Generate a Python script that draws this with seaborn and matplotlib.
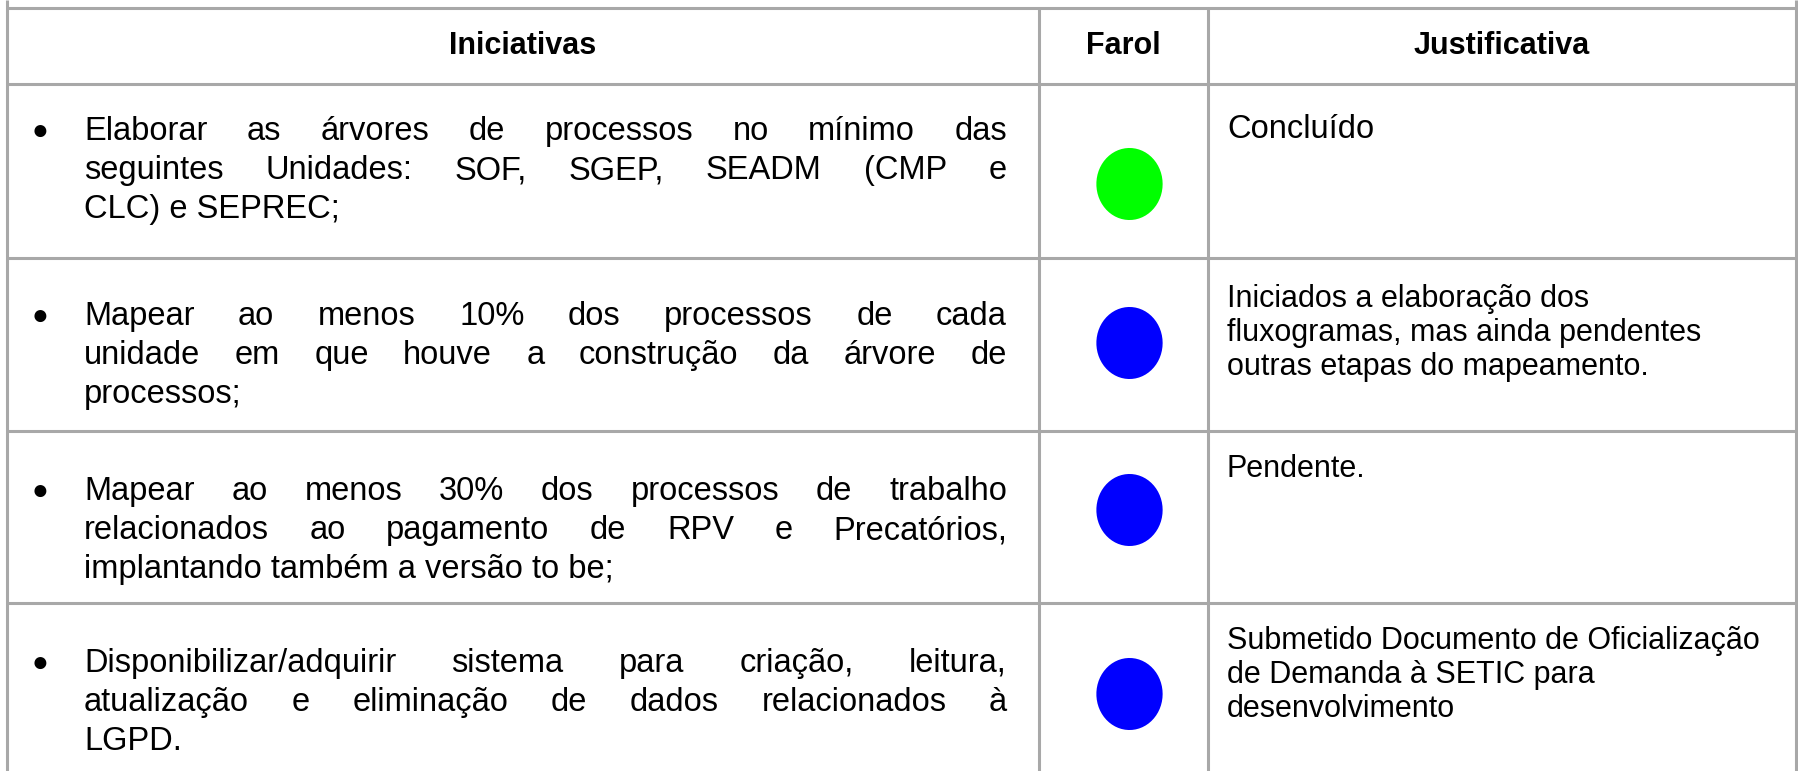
import matplotlib
matplotlib.use("Agg")
import matplotlib.pyplot as plt
import seaborn as sns
import pandas as pd
import numpy as np
from matplotlib.path import Path

# dados da tabela
cabecalho = ["Iniciativas", "Farol", "Justificativa"]
iniciativas = [
    ["Elaborar as árvores de processos no mínimo das",
     "seguintes Unidades: SOF, SGEP, SEADM (CMP e",
     "CLC) e SEPREC;"],
    ["Mapear ao menos 10% dos processos de cada",
     "unidade em que houve a construção da árvore de",
     "processos;"],
    ["Mapear ao menos 30% dos processos de trabalho",
     "relacionados ao pagamento de RPV e Precatórios,",
     "implantando também a versão to be;"],
    ["Disponibilizar/adquirir sistema para criação, leitura,",
     "atualização e eliminação de dados relacionados à",
     "LGPD."],
]
farol = ["verde", "azul", "azul", "azul"]
justificativas = [
    ["Concluído"],
    ["Iniciados a elaboração dos", "fluxogramas, mas ainda pendentes",
     "outras etapas do mapeamento."],
    ["Pendente."],
    ["Submetido Documento de Oficialização", "de Demanda à SETIC para",
     "desenvolvimento"],
]
cores_farol = {"verde": "#00ff00", "azul": "#0000ff"}

# layout (pixels)
W, H = 1799, 771
col_x = [7, 1039, 1208, 1796]
row_y = [8, 84, 258, 431, 603]
base_ini = [140, 325, 500, 672]
passo_ini = 39
base_just = [[138], [307, 341, 375], [477], [649, 683, 717]]
farol_y = [184, 343, 510, 694]
grid_color = "#a8a8a8"
fs_main, fs_small, fs_head = 23.5, 22, 22

sns.set_theme(style="white")
plt.rcParams["font.family"] = ["Liberation Sans", "DejaVu Sans"]

fig = plt.figure(figsize=(W / 100, H / 100), dpi=100)
ax = fig.add_axes([0, 0, 1, 1])
ax.set_xlim(0, W)
ax.set_ylim(H, 0)
ax.axis("off")

# grade
ax.hlines(row_y, col_x[0], col_x[-1], color=grid_color, lw=2.2)
ax.vlines([col_x[0], col_x[-1]], 0, H, color=grid_color, lw=2.2)
ax.vlines(col_x[1:-1], row_y[0], H, color=grid_color, lw=2.2)

# cabecalho
hy = (row_y[0] + row_y[1]) / 2
for i, t in enumerate(cabecalho):
    ax.text((col_x[i] + col_x[i + 1]) / 2, hy, t, ha="center", va="center",
            fontsize=fs_head, fontweight="bold", color="black")

renderer = fig.canvas.get_renderer()


def linha_justificada(palavras, x0, x1, y, **kw):
    objs = [ax.text(0, y, p, va="baseline", **kw) for p in palavras]
    larg = [o.get_window_extent(renderer).width for o in objs]
    gap = (x1 - x0 - sum(larg)) / max(len(objs) - 1, 1)
    x = x0
    for o, w in zip(objs, larg):
        o.set_x(x)
        x += w + gap


txt_x0, txt_x1 = 84, 1007
for r, linhas in enumerate(iniciativas):
    ax.text(40, base_ini[r] - 1, "●", ha="center", va="baseline",
            fontsize=20, color="black")
    for k, ln in enumerate(linhas):
        y = base_ini[r] + k * passo_ini
        if k < len(linhas) - 1:
            linha_justificada(ln.split(" "), txt_x0, txt_x1, y, fontsize=fs_main, color="black")
        else:
            ax.text(txt_x0, y, ln, va="baseline", fontsize=fs_main, color="black")

for r, linhas in enumerate(justificativas):
    fs = fs_main if r == 0 else fs_small
    for k, ln in enumerate(linhas):
        ax.text(col_x[2] + 19, base_just[r][k], ln, va="baseline", fontsize=fs, color="black")

# farol
df = pd.DataFrame({
    "x": [(col_x[1] + col_x[2]) / 2 + 6] * len(farol),
    "y": farol_y,
    "farol": farol,
})
t = np.linspace(0, 2 * np.pi, 60)
elipse = Path(np.column_stack([0.92 * np.cos(t), np.sin(t)]))
sns.scatterplot(data=df, x="x", y="y", hue="farol", palette=cores_farol,
                marker=elipse, s=2690, linewidth=0, legend=False, ax=ax)
ax.set_xlim(0, W)
ax.set_ylim(H, 0)
ax.axis("off")

fig.savefig("out.png", dpi=100, facecolor="white")
